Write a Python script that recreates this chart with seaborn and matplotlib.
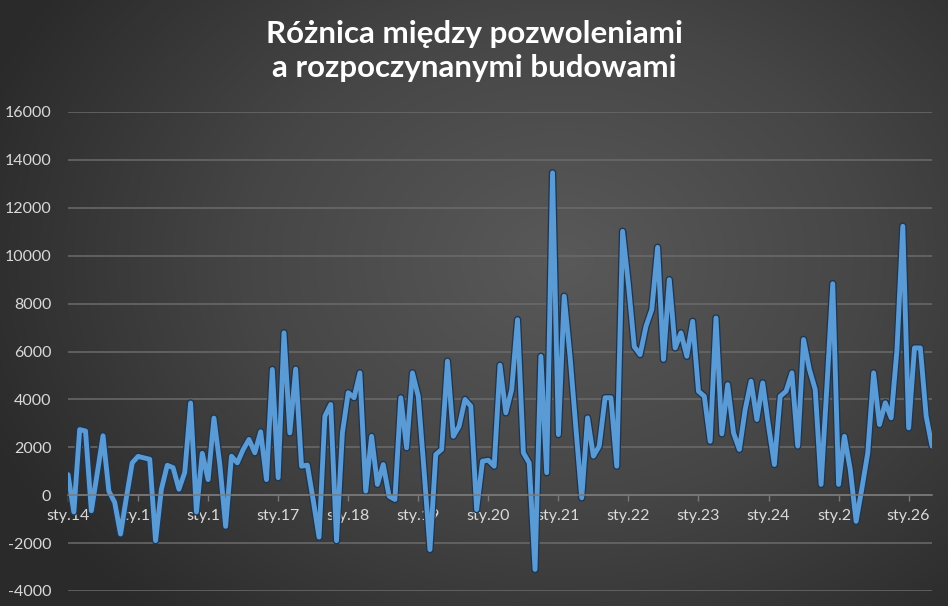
import numpy as np
import pandas as pd
import matplotlib
matplotlib.use("Agg")
import matplotlib.pyplot as plt
import matplotlib.patheffects as pe
from matplotlib.colors import LinearSegmentedColormap
import seaborn as sns

# difference between building permits and construction starts, monthly from Jan 2014
values = [
    860, -700, 2740, 2680, -650, 900, 2480, 170, -300, -1620, -100, 1350,
    1620, 1560, 1500, -1900, 250, 1250, 1150, 250, 950, 3850, -700, 1750,
    650, 3220, 1300, -1300, 1630, 1350, 1900, 2330, 1770, 2650, 650, 5250,
    730, 6780, 2600, 5270, 1210, 1260, -200, -1750, 3300, 3790, -1900, 2600,
    4280, 4070, 5110, 170, 2460, 450, 1280, -40, -180, 4070, 1980, 5110,
    4130, 1000, -2270, 1700, 1910, 5600, 2460, 2880, 4000, 3720, -600, 1420,
    1460, 1210, 5430, 3440, 4410, 7330, 1770, 1350, -3100, 5800, 940, 13460,
    2530, 8310, 5800, 2800, -110, 3230, 1630, 2050, 4070, 4070, 1210, 11020,
    8800, 6200, 5870, 7050, 7750, 10350, 5670, 9000, 6150, 6780, 5800, 7260,
    4340, 4130, 2250, 7400, 2560, 4620, 2600, 1910, 3580, 4760, 3160, 4690,
    2900, 1280, 4130, 4340, 5110, 2050, 6500, 5250, 4410, 450, 4550, 8830,
    450, 2460, 1070, -1090, 300, 1770, 5110, 2950, 3860, 3230, 6080, 11230,
    2810, 6150, 6150, 3300, 2050,
]
year_labels = ["sty.14", "sty.15", "sty.16", "sty.17", "sty.18", "sty.19", "sty.20",
               "sty.21", "sty.22", "sty.23", "sty.24", "sty.25", "sty.26"]
y_ticks = [-4000, -2000, 0, 2000, 4000, 6000, 8000, 10000, 12000, 14000, 16000]
title = "Różnica między pozwoleniami\na rozpoczynanymi budowami"

df = pd.DataFrame({"month": np.arange(len(values)), "diff": values})

sns.set_theme(style="dark")
plt.rcParams["font.family"] = ["Lato", "DejaVu Sans"]

fig = plt.figure(figsize=(9.48, 6.06), dpi=100)

# dark radial background like the Excel chart style
bg = fig.add_axes([0, 0, 1, 1], zorder=-1)
yy, xx = np.mgrid[0:606, 0:948]
r = np.sqrt(((xx - 560) / 620.0) ** 2 + ((yy - 260) / 480.0) ** 2)
bg_cmap = LinearSegmentedColormap.from_list("bg", ["#595959", "#464646", "#2a2a2a"])
bg.imshow(np.clip(r, 0, 1), cmap=bg_cmap, vmin=0, vmax=1, aspect="auto")
bg.axis("off")

ax = fig.add_axes([68 / 948, 1 - 591 / 606, 864 / 948, 479 / 606])
ax.set_facecolor("none")

sns.lineplot(data=df, x="month", y="diff", ax=ax, color="#5b9bd5", linewidth=3.5,
             path_effects=[pe.Stroke(linewidth=5.4, foreground="#1e3550"), pe.Normal()])

ax.set_xlim(0, len(values) - 1)
ax.set_ylim(-4000, 16000)
ax.set_yticks(y_ticks)
ax.set_yticklabels([str(t) for t in y_ticks])
ax.set_xticks(np.arange(0, len(values), 12))
ax.set_xticklabels(year_labels)

ax.grid(axis="y", color="#6b6b6b", linewidth=1.1)
ax.grid(axis="x", visible=False)
for s in ["top", "right", "left"]:
    ax.spines[s].set_visible(False)
ax.spines["bottom"].set_position(("data", 0))
ax.spines["bottom"].set_color("#7a7a7a")
ax.spines["bottom"].set_linewidth(1.1)

ax.tick_params(axis="x", colors="#7a7a7a", labelcolor="#d9d9d9", labelsize=11.5,
               direction="out", length=4, width=1, pad=6, bottom=True)
ax.tick_params(axis="y", labelcolor="#d9d9d9", labelsize=11.5, length=0, pad=12)
ax.set_xlabel("")
ax.set_ylabel("")

fig.text(0.5, 1 - 51 / 606, title, ha="center", va="center", color="white",
         fontsize=22.5, fontweight="bold", linespacing=1.3)

fig.savefig("out.png", dpi=100)
